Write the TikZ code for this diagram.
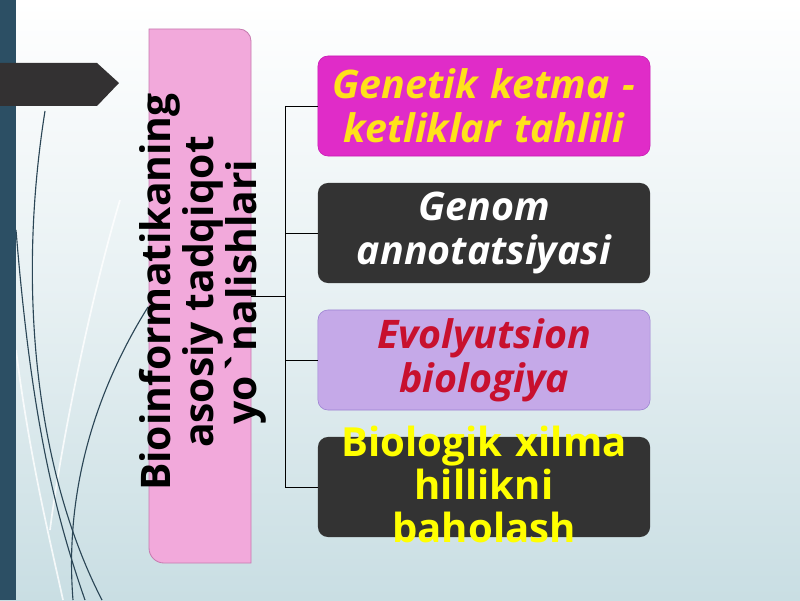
\documentclass[tikz,border=0pt]{standalone}
\usepackage{fontspec}
\setmainfont{Open Sans}
\usetikzlibrary{positioning}

\definecolor{slidebar}{HTML}{2C4F64}
\definecolor{tabdark}{HTML}{333132}
\definecolor{swirl}{HTML}{2B4656}
\definecolor{skybottom}{HTML}{C9DEE3}
\definecolor{titlepink}{HTML}{F2A9DB}
\definecolor{titleedge}{HTML}{C77BB0}
\definecolor{genmag}{HTML}{E02CC8}
\definecolor{genedge}{HTML}{C81AB2}
\definecolor{genyellow}{HTML}{FFE21A}
\definecolor{annodark}{HTML}{333333}
\definecolor{evolilac}{HTML}{C5A9E8}
\definecolor{evoedge}{HTML}{9C82D2}
\definecolor{evored}{HTML}{C8102E}
\definecolor{bioyellow}{HTML}{FFFF00}

\tikzset{
  branch/.style={rectangle, rounded corners=0.25cm, minimum width=8.3cm,
    minimum height=2.5cm, text width=8.2cm, align=center, inner sep=0pt,
    font=\fontsize{28}{31}\selectfont\bfseries\itshape},
  link/.style={draw=black, line width=0.7pt}
}

\begin{document}
\begin{tikzpicture}[x=0.025cm,y=0.025cm]

\useasboundingbox (0,0) rectangle (800,600);
\shade[top color=white, bottom color=skybottom, middle color=skybottom!45!white] (0,0) rectangle (800,600);

\draw[white, line width=1.2pt, opacity=0.8] (120,400) .. controls (90,300) and (60,150) .. (50,70);
\draw[white, line width=1.2pt, opacity=0.8] (16,250) .. controls (30,140) and (50,60) .. (63,0);
\draw[swirl, line width=0.8pt] (45,489) .. controls (15,300) and (40,120) .. (102,0);
\draw[swirl, line width=0.8pt] (16,370) .. controls (30,200) and (50,100) .. (85,0);
\draw[swirl, line width=0.8pt] (148,293) .. controls (90,200) and (65,100) .. (73,0);

\fill[slidebar] (0,0) rectangle (16,600);
\fill[tabdark] (0,537) -- (97,537) -- (119,517) -- (97,494) -- (0,494) -- cycle;

\filldraw[fill=titlepink, draw=titleedge, line width=0.6pt]
  (149,52) -- (149,571) -- (239,571) arc[start angle=90, end angle=0, radius=12]
  -- (251,37) -- (164,37) arc[start angle=270, end angle=180, radius=15] -- cycle;

\node[rotate=90, align=center, font=\fontsize{29}{30.5}\selectfont\bfseries]
  (title) at (203,308) {Bioinformatikaning\\asosiy tadqiqot\\yo\textasciigrave nalishlari};

\node[branch, fill=genmag, draw=genedge, text=genyellow] (gen) at (484,494)
  {Genetik ketma -\\ketliklar tahlili};
\node[branch, fill=annodark, text=white] (anno) at (484,367)
  {Genom\\annotatsiyasi};
\node[branch, fill=evolilac, draw=evoedge, text=evored] (evo) at (484,240)
  {Evolyutsion\\biologiya};
\node[branch, fill=annodark, text=bioyellow, font=\fontsize{28.5}{30}\selectfont\bfseries] (bio) at (484,113)
  {\smash{\raisebox{-0.3cm}{\begin{tabular}{@{}c@{}}Biologik xilma\\hillikni\\baholash\end{tabular}}}};

\coordinate (tj) at (251,304);
\coordinate (hub) at (285,304);

\draw[link] (tj) -- (hub);
\draw[link] (hub |- gen.west) -- (hub |- bio.west);
\draw[link] (hub |- gen.west) -- (gen.west);
\draw[link] (hub |- anno.west) -- (anno.west);
\draw[link] (hub |- evo.west) -- (evo.west);
\draw[link] (hub |- bio.west) -- (bio.west);

\end{tikzpicture}
\end{document}
